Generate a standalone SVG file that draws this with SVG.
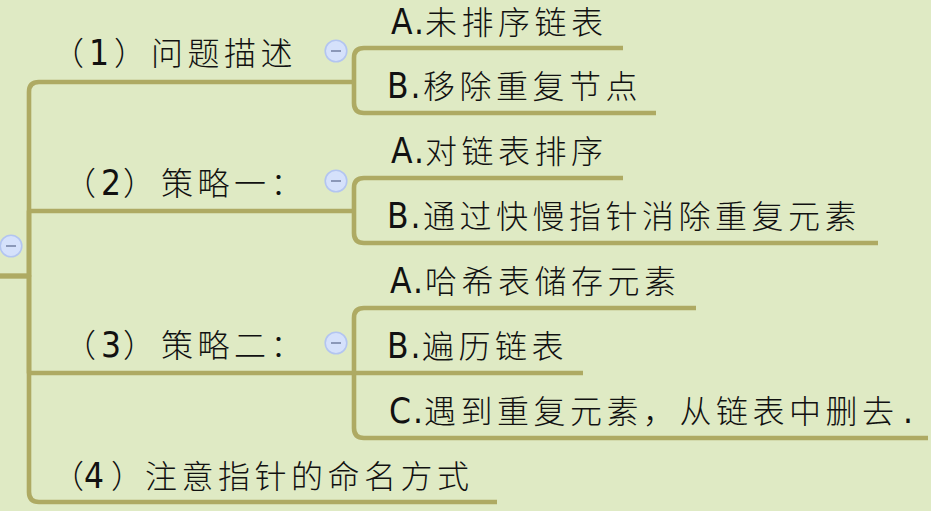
<svg xmlns="http://www.w3.org/2000/svg" width="931" height="511" viewBox="0 0 931 511">
<defs>
<style>
.bg{fill:#dfeac4}
.c path{fill:none;stroke:#aeaa63;stroke-width:4.6;stroke-linecap:butt;stroke-linejoin:round}
.t{font-family:"Noto Sans CJK SC","Noto Sans CJK JP",sans-serif;font-size:32px;font-weight:300;letter-spacing:4.5px;fill:#111}
.l{font-family:"DejaVu Sans Condensed","DejaVu Sans",sans-serif;font-size:35px;font-weight:400;letter-spacing:2px}
.p{letter-spacing:0}
.tog circle{fill:#d5e1fb;stroke:#b3c5f0;stroke-width:1.6}
.tog line{stroke:#8b98b8;stroke-width:2}
</style>
<g id="toggle" class="tog"><circle cx="0" cy="0" r="10.8"/><line x1="-5" y1="0" x2="5" y2="0"/></g>
</defs>
<rect class="bg" x="0" y="0" width="931" height="511"/>
<g id="connectors" class="c">
<path d="M0 276H29V92Q29 82 39 82H354"/>
<path d="M0 276H29V211H354"/>
<path d="M0 276H29V373H354"/>
<path d="M0 276H29V492Q29 502 39 502H497"/>
<path d="M354 82V58Q354 48 364 48H623"/>
<path d="M354 82V103Q354 113 364 113H656"/>
<path d="M354 211V188Q354 178 364 178H623"/>
<path d="M354 211V233Q354 243 364 243H878"/>
<path d="M354 373V318Q354 308 364 308H696"/>
<path d="M354 373H583"/>
<path d="M354 373V428Q354 438 364 438H928"/>
</g>
<g id="root"><use href="#toggle" x="11" y="246"/></g>
<g id="n1"><text class="t" y="65"><tspan class="p" x="52">（</tspan><tspan class="l p" x="89">1</tspan><tspan class="p" x="114">）</tspan><tspan x="151">问题描述</tspan></text><use href="#toggle" x="336" y="51"/></g>
<g id="n1a"><text class="t" y="34"><tspan class="l" x="391">A.</tspan><tspan x="425">未排序链表</tspan></text></g>
<g id="n1b"><text class="t" y="98"><tspan class="l" x="387">B.</tspan><tspan x="423">移除重复节点</tspan></text></g>
<g id="n2"><text class="t" y="195"><tspan class="p" x="64">（</tspan><tspan class="l p" x="101">2</tspan><tspan class="p" x="123">）</tspan><tspan x="161">策略一：</tspan></text><use href="#toggle" x="336" y="181"/></g>
<g id="n2a"><text class="t" y="163"><tspan class="l" x="391">A.</tspan><tspan x="425">对链表排序</tspan></text></g>
<g id="n2b"><text class="t" y="228"><tspan class="l" x="387">B.</tspan><tspan x="423">通过快慢指针消除重复元素</tspan></text></g>
<g id="n3"><text class="t" y="357"><tspan class="p" x="64">（</tspan><tspan class="l p" x="101">3</tspan><tspan class="p" x="123">）</tspan><tspan x="161">策略二：</tspan></text><use href="#toggle" x="336" y="343"/></g>
<g id="n3a"><text class="t" y="293"><tspan class="l" x="390">A.</tspan><tspan x="425">哈希表储存元素</tspan></text></g>
<g id="n3b"><text class="t" y="358"><tspan class="l" x="387">B.</tspan><tspan x="422">遍历链表</tspan></text></g>
<g id="n3c"><text class="t" y="423"><tspan class="l" x="389">C.</tspan><tspan x="424">遇到重复元素，从链表中删去</tspan><tspan class="l" x="903">.</tspan></text></g>
<g id="n4"><text class="t" y="488"><tspan class="p" x="52">（</tspan><tspan class="l p" x="84">4</tspan><tspan class="p" x="111">）</tspan><tspan x="145">注意指针的命名方式</tspan></text></g>
</svg>
